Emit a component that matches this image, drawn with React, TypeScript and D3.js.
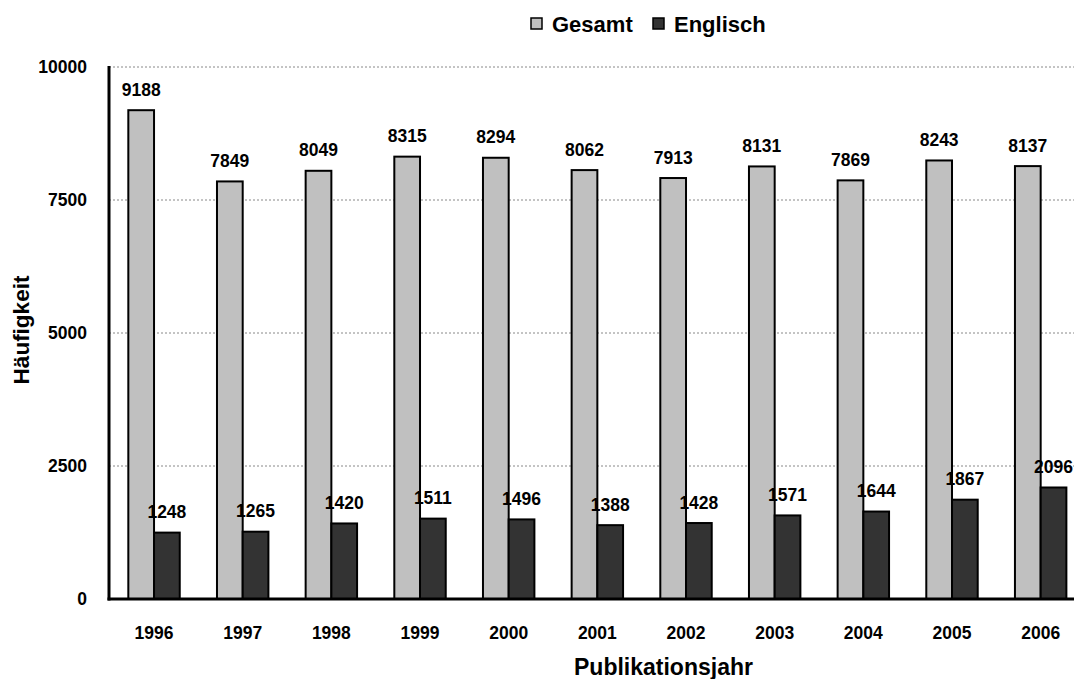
import React from "react";
import * as d3 from "d3";

const years = ["1996", "1997", "1998", "1999", "2000", "2001", "2002", "2003", "2004", "2005", "2006"];
const gesamt = [9188, 7849, 8049, 8315, 8294, 8062, 7913, 8131, 7869, 8243, 8137];
const englisch = [1248, 1265, 1420, 1511, 1496, 1388, 1428, 1571, 1644, 1867, 2096];
const yTicks = [0, 2500, 5000, 7500, 10000];
const seriesNames = ["Gesamt", "Englisch"];
const seriesColors = ["#c0c0c0", "#333333"];

const W = 1074;
const H = 679;
const FONT = "'Liberation Sans', Arial, sans-serif";

export default function App() {
  const x = d3.scaleBand<string>().domain(years).range([109.7, 1085]).paddingInner(0.42).paddingOuter(0.21);
  const y = d3.scaleLinear().domain([0, 10000]).range([599, 67]);
  const bw = x.bandwidth() / 2;
  const series = [gesamt, englisch];

  return (
    <svg width={W} height={H} style={{ position: "absolute", left: 0, top: 0, background: "#fff" }} fontFamily={FONT} fontWeight="bold">
      {/* gridlines */}
      {yTicks.filter((t) => t > 0).map((t) => (
        <line key={t} x1={109} x2={W} y1={y(t)} y2={y(t)} stroke="#888" strokeWidth={1} strokeDasharray="2,2" />
      ))}
      {/* y tick labels */}
      {yTicks.map((t) => (
        <text key={t} x={87} y={y(t)} dy="0.35em" textAnchor="end" fontSize={17.5}>{t}</text>
      ))}
      {/* bars */}
      {series.map((vals, si) =>
        vals.map((v, i) => {
          const bx = (x(years[i]) as number) + si * bw;
          return (
            <g key={si + "-" + i}>
              <rect x={bx} y={y(v)} width={bw} height={y(0) - y(v)} fill={seriesColors[si]} stroke="#000" strokeWidth={2} />
              <text x={bx + bw / 2} y={y(v) - 14.5} textAnchor="middle" fontSize={17.5}>{v}</text>
            </g>
          );
        })
      )}
      {/* axes */}
      <line x1={109} x2={109} y1={y(10000) - 1} y2={y(0) + 1.5} stroke="#000" strokeWidth={3} />
      <line x1={107.5} x2={W} y1={y(0)} y2={y(0)} stroke="#000" strokeWidth={3} />
      {/* x tick labels */}
      {years.map((yr) => (
        <text key={yr} x={(x(yr) as number) + x.bandwidth() / 2} y={639} textAnchor="middle" fontSize={17.5}>{yr}</text>
      ))}
      {/* axis titles */}
      <text x={574} y={675} textAnchor="start" fontSize={23}>Publikationsjahr</text>
      <text transform={`translate(28.5,330) rotate(-90)`} textAnchor="middle" fontSize={22.5}>Häufigkeit</text>
      {/* legend */}
      {seriesNames.map((n, i) => {
        const lx = i === 0 ? 531 : 653;
        return (
          <g key={n}>
            <rect x={lx} y={18} width={11} height={11} fill={seriesColors[i]} stroke="#000" strokeWidth={1.5} />
            <text x={lx + 21} y={31.5} fontSize={22}>{n}</text>
          </g>
        );
      })}
    </svg>
  );
}
